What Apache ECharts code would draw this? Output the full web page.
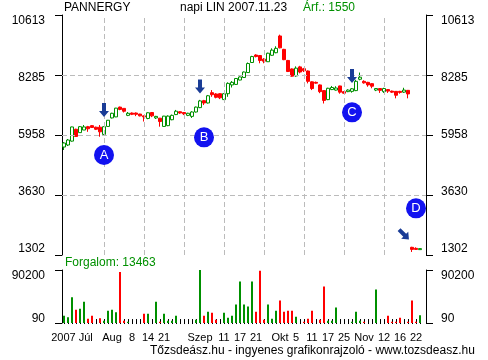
<!DOCTYPE html>
<html><head><meta charset="utf-8">
<script src="https://cdn.jsdelivr.net/npm/echarts@6/dist/echarts.min.js"></script>
<style>html,body{margin:0;padding:0;background:#fff}#c{width:488px;height:360px}</style>
</head><body><div id="c"></div>
<script>
// [open, close, low, high]
const ohlc = [
 [5491,5647,5375,5680],[5569,5763,5530,5800],[5720,6270,5700,6280],[6180,5900,5880,6200],[6050,6280,6050,6300],
 [6150,6270,6150,6345],[6280,6200,6080,6310],[6320,6250,6230,6345],[6260,6180,6150,6280],[6260,6080,5890,6345],
 [5980,6280,5960,6290],[6290,6530,6290,6540],[6620,6800,6600,6820],[6660,7000,6650,7010],[7040,6950,6920,7060],
 [6990,6880,6830,7000],[6720,6800,6690,6850],[6810,6760,6730,6830],[6810,6760,6690,6830],[6770,6700,6680,6780],
 [6700,6660,6480,6710],[6600,6820,6570,6840],[6830,6700,6650,6850],[6620,6680,6580,6700],[6610,6480,6280,6620],
 [6290,6690,6280,6700],[6320,6690,6300,6720],[6550,6720,6530,6750],[6750,6880,6730,6930],[6860,6810,6780,6880],
 [6830,6780,6730,6850],[6720,6800,6690,6820],[6680,6850,6620,6880],[6850,7040,6830,7060],[7020,7280,7000,7320],
 [7290,7200,7120,7320],[7200,7480,7180,7510],[7600,7520,7440,7700],[7550,7420,7380,7580],[7560,7400,7350,7580],
 [7330,7560,7320,7580],[7560,7960,7440,8000],[7900,8000,7800,8050],[7920,8150,7900,8160],[8090,8210,8080,8230],
 [8190,8400,8170,8420],[8380,8730,8370,8770],[8770,9000,8760,9030],[9060,9000,8970,9090],[9040,8850,8740,9060],
 [8900,8820,8740,8940],[8800,9130,8790,9150],[9050,9250,9030,9320],[9150,9320,9130,9400],[9800,9340,9320,9850],
 [9280,8880,8860,9300],[8850,8420,8400,8870],[8520,8240,8220,8540],[8250,8550,8220,8620],[8600,8400,8350,8640],
 [8530,8450,8400,8560],[8440,8040,7960,8460],[8020,7760,7700,8040],[8000,7970,7950,8030],[7900,7640,7580,7920],
 [7680,7300,7180,7700],[7330,7770,7310,7790],[7720,7800,7700,7860],[7700,7780,7680,7850],[7860,7620,7560,7870],
 [7640,7580,7560,7660],[7640,7700,7620,7730],[7650,7750,7600,7780],[7680,8040,7660,8100],[8120,8200,8080,8380],
 [8040,7980,7950,8080],[8000,7900,7830,8020],[7950,7850,7770,7970],[7700,7760,7660,7780],[7760,7690,7590,7780],
 [7640,7760,7590,7790],[7720,7660,7590,7740],[7660,7620,7590,7680],[7650,7500,7380,7660],[7650,7610,7560,7670],
 [7620,7700,7590,7790],[7690,7550,7380,7700],[1600,1520,1420,1620],[1560,1520,1500,1600],[1510,1550,1500,1560]
];
const volumes = [
 12500,9700,43700,22700,24400,36300,7400,12500,90,8000,
 4000,21000,22700,18200,86600,4000,2300,90,90,90,
 15900,15900,90,36400,2300,15900,4000,4000,12500,90,
 90,90,90,5700,90200,12500,19400,17700,5700,90,
 17700,9100,12500,31400,70700,31400,28000,70700,19400,89000,
 5700,31400,7400,21100,38200,19400,21100,21100,10800,90,
 2300,7400,21100,90,5700,62200,4000,4000,26300,90,
 90,90,2300,19400,4000,2300,90,90,57000,90,
 90,12500,2300,2300,9100,90,2300,38200,2300,13463
];
const priceTicks = [1302, 3630, 5958, 8285, 10613];
const volumeTicks = [90, 90200];
const priceGridLines = [3630, 5958, 8285];
const dayGridLines = [10, 20, 30, 40, 50, 60, 70, 80];
const labelDays = [2, 12, 17, 21, 25, 34, 40, 44, 48, 54, 58, 62, 66, 70, 75, 80, 84, 88];
const labelTexts = ['2007 Júl','Aug','8','14','21','Szep','11','17','21','Okt','5','11','17','25','Nov','12','16','22'];
const markerNames = ['A', 'B', 'C', 'D'];
const markerDays = [10, 35, 72, 88];
const markerPrices = [5181, 5868, 6838, 3113];
const arrowDays = [10, 34, 72, 85];
const arrowPrices = [6927, 7839, 8246, 2097];
const arrowRotations = [0, 0, 0, 45];

const FONT = '"Liberation Sans", Arial, sans-serif';
const GREEN = '#009000', RED = '#ff0000';
const N = ohlc.length + 1;
const categories = Array.from({length: N}, (_, i) => String(i));
const labelMap = {};
labelDays.forEach((d, i) => { labelMap[d] = labelTexts[i]; });

const PRICE_TOP = 15, PRICE_H = 240, VOL_TOP = 270, VOL_H = 53, INSET = 6;
const pMin = priceTicks[0], pMax = priceTicks[priceTicks.length - 1];
const pPad = (pMax - pMin) * INSET / (PRICE_H - 2 * INSET);
const vMin = volumeTicks[0], vMax = volumeTicks[volumeTicks.length - 1];
const vUnit = (vMax - vMin) / (VOL_H - 10);

const volData = volumes.map((v, i) => ({
  value: v,
  itemStyle: { color: ohlc[i][1] >= ohlc[i][0] ? GREEN : RED }
}));

const arrowPath = 'path://M3,0L7,0L7,8L10,8L5,14L0,8L3,8Z';
const markData = [];
markerNames.forEach((n, i) => {
  markData.push({
    coord: [arrowDays[i], arrowPrices[i]], symbol: arrowPath, symbolSize: [10, 14],
    symbolRotate: arrowRotations[i], itemStyle: { color: '#1a3c96' }, label: { show: false }
  });
  markData.push({
    coord: [markerDays[i], markerPrices[i]], symbol: 'circle', symbolSize: 20,
    itemStyle: { color: '#1212f0' },
    label: { show: true, formatter: n, color: '#fff', fontSize: 13, fontFamily: FONT, position: 'inside' }
  });
});

const plain = (v) => String(Math.round(v));
const mainAxis = (grid, pos, min, max, ticks) => ({
  type: 'value', gridIndex: grid, position: pos, min: min, max: max,
  axisLine: { show: true, onZero: false, lineStyle: { color: '#000', width: 1 } },
  axisTick: { show: true, length: 7, customValues: ticks, lineStyle: { color: '#000' } },
  axisLabel: { show: false }, splitLine: { show: false }
});
const labelAxis = (grid, pos, min, max, ticks, margin) => ({
  type: 'value', gridIndex: grid, position: pos, min: min, max: max,
  axisLine: { show: false }, axisTick: { show: false }, splitLine: { show: false },
  axisLabel: { show: true, customValues: ticks, formatter: plain, margin: margin, color: '#000', fontSize: 12, fontFamily: FONT }
});

const chart = echarts.init(document.getElementById('c'), null, { renderer: 'canvas' });
chart.setOption({
  animation: false,
  backgroundColor: '#fff',
  grid: [
    { left: 62, right: 62, top: PRICE_TOP, height: PRICE_H },
    { left: 62, right: 62, top: VOL_TOP, height: VOL_H }
  ],
  xAxis: [
    { type: 'category', gridIndex: 0, data: categories, boundaryGap: true,
      axisLine: { show: false }, axisTick: { show: false }, axisLabel: { show: false }, splitLine: { show: false } },
    { type: 'category', gridIndex: 1, data: categories, boundaryGap: true,
      axisLine: { show: false },
      axisTick: { show: true, alignWithLabel: true, length: 5, interval: (i) => i < N - 1, lineStyle: { color: '#000' } },
      axisLabel: { show: true, interval: (i) => labelMap[i] !== undefined, formatter: (v, i) => labelMap[i] || '',
        margin: 9, fontSize: 11, color: '#000', fontFamily: FONT },
      splitLine: { show: false } }
  ],
  yAxis: [
    mainAxis(0, 'left', pMin, pMax, priceTicks),
    mainAxis(0, 'right', pMin, pMax, priceTicks),
    labelAxis(0, 'left', pMin - pPad, pMax + pPad, priceTicks, 17),
    labelAxis(0, 'right', pMin - pPad, pMax + pPad, priceTicks, 15),
    mainAxis(1, 'left', vMin, vMax, volumeTicks),
    mainAxis(1, 'right', vMin, vMax, volumeTicks),
    labelAxis(1, 'left', vMin - 4 * vUnit, vMax + 6 * vUnit, volumeTicks, 17),
    labelAxis(1, 'right', vMin - 4 * vUnit, vMax + 6 * vUnit, volumeTicks, 15)
  ],
  graphic: [
    { type: 'text', left: 64, top: 2, style: { text: 'PANNERGY', font: '12px ' + FONT, fill: '#000' } },
    { type: 'text', left: 180, top: 2, style: { text: 'napi LIN 2007.11.23', font: '12px ' + FONT, fill: '#000' } },
    { type: 'text', left: 303, top: 2, style: { text: 'Árf.: ' + ohlc[ohlc.length - 1][1], font: '12px ' + FONT, fill: GREEN } },
    { type: 'text', left: 65, top: 257, style: { text: 'Forgalom: ' + volumes[volumes.length - 1], font: '12px ' + FONT, fill: GREEN } },
    { type: 'text', left: 150, top: 345, style: { text: 'Tőzsdeász.hu - ingyenes grafikonrajzoló - www.tozsdeasz.hu', font: '12px ' + FONT, fill: '#000' } }
  ],
  series: [
    { type: 'line', xAxisIndex: 0, yAxisIndex: 0, data: [], z: 1, silent: true,
      markLine: { silent: true, symbol: 'none', animation: false, label: { show: false },
        lineStyle: { color: '#bbbbbb', type: [5, 3], width: 1 },
        data: priceGridLines.map(v => ({ yAxis: v })).concat(dayGridLines.map(d => ({ xAxis: d }))) } },
    { type: 'candlestick', xAxisIndex: 0, yAxisIndex: 0, data: ohlc, barWidth: 3, z: 3,
      itemStyle: { color: '#ffffff', color0: RED, borderColor: GREEN, borderColor0: RED, borderWidth: 1 },
      markPoint: { silent: true, animation: false, data: markData } },
    { type: 'bar', xAxisIndex: 1, yAxisIndex: 4, data: volData, barWidth: 2 }
  ]
});
</script></body></html>
